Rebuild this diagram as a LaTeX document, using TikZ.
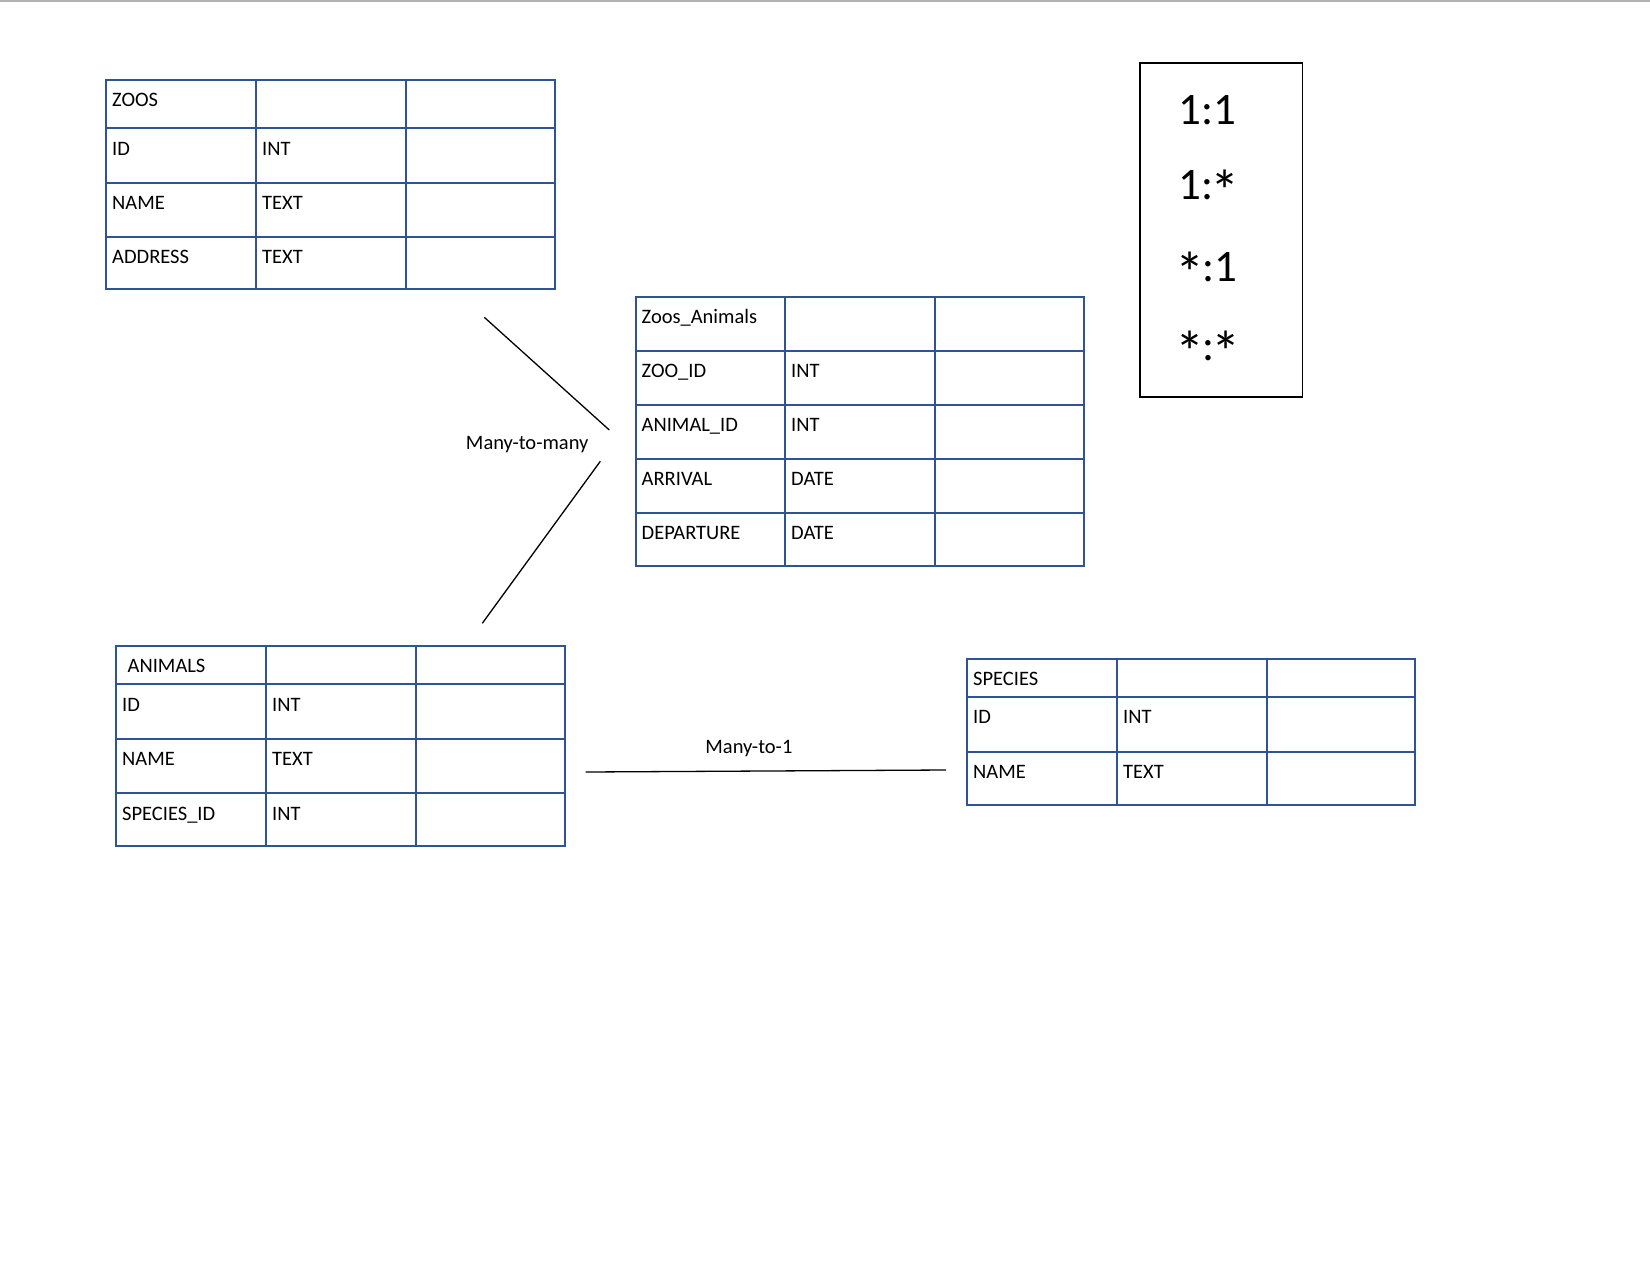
\documentclass[tikz,border=0pt]{standalone}
\usepackage{fontspec}
\setmainfont{Carlito}
\definecolor{tblblue}{RGB}{47,84,150}
\newcommand\legast{\kern-2.5pt\raisebox{-12pt}{\scalebox{1.3}{*}}\kern-2.5pt}
\tikzset{
  tbl/.style={draw=tblblue, line width=2pt},
  conn/.style={draw=black, line width=1.3pt},
  cell/.style={anchor=base west, inner sep=0pt, font=\fontsize{20.5}{24}\selectfont},
  lbl/.style={anchor=base, inner sep=0pt, font=\fontsize{20.5}{24}\selectfont},
  leg/.style={anchor=base west, inner sep=0pt, font=\fontsize{45}{50}\selectfont},
}
\begin{document}
\begin{tikzpicture}[x=1pt,y=-1pt]
\useasboundingbox (0,0) rectangle (1650,1275);
\draw[gray!60, line width=1.5pt] (0,0.8) -- (1650,0.8);

% ZOOS table
\draw[tbl] (106,80) rectangle (554.6,289.4);
\draw[tbl] (255.7,80) -- (255.7,289.4) (405.8,80) -- (405.8,289.4);
\draw[tbl] (106,128.4) -- (554.6,128.4) (106,182.5) -- (554.6,182.5) (106,236.7) -- (554.6,236.7);
\node[cell] (z0) at (112,106.6) {ZOOS};
\node[cell] (z1) at (112,155) {ID};
\node[cell] (z1t) at (262,155) {INT};
\node[cell] (z2) at (112,209.1) {NAME};
\node[cell] (z2t) at (262,209.1) {TEXT};
\node[cell] (z3) at (112,263.3) {ADDRESS};
\node[cell] (z3t) at (262,263.3) {TEXT};

% Zoos_Animals table
\draw[tbl] (635.8,296.7) rectangle (1084,566);
\draw[tbl] (785,296.7) -- (785,566) (935.2,296.7) -- (935.2,566);
\draw[tbl] (635.8,350.5) -- (1084,350.5) (635.8,405) -- (1084,405) (635.8,459) -- (1084,459) (635.8,513.3) -- (1084,513.3);
\node[cell] (za0) at (641.5,323.3) {Zoos\_Animals};
\node[cell] (za1) at (641.5,377.1) {ZOO\_ID};
\node[cell] (za1t) at (791,377.1) {INT};
\node[cell] (za2) at (641.5,431.6) {ANIMAL\_ID};
\node[cell] (za2t) at (791,431.6) {INT};
\node[cell] (za3) at (641.5,485.6) {ARRIVAL};
\node[cell] (za3t) at (791,485.6) {DATE};
\node[cell] (za4) at (641.5,539.9) {DEPARTURE};
\node[cell] (za4t) at (791,539.9) {DATE};

% ANIMALS table
\draw[tbl] (116,645.8) rectangle (564.6,846);
\draw[tbl] (265.8,645.8) -- (265.8,846) (415.7,645.8) -- (415.7,846);
\draw[tbl] (116,684.4) -- (564.6,684.4) (116,738.5) -- (564.6,738.5) (116,793.3) -- (564.6,793.3);
\node[cell] (a0) at (127.5,672.6) {ANIMALS};
\node[cell] (a1) at (122,711.2) {ID};
\node[cell] (a1t) at (272,711.2) {INT};
\node[cell] (a2) at (122,765.3) {NAME};
\node[cell] (a2t) at (272,765.3) {TEXT};
\node[cell] (a3) at (122,820.1) {SPECIES\_ID};
\node[cell] (a3t) at (272,820.1) {INT};

% SPECIES table
\draw[tbl] (966.5,658.8) rectangle (1415.2,804.5);
\draw[tbl] (1116.7,658.8) -- (1116.7,804.5) (1266.8,658.8) -- (1266.8,804.5);
\draw[tbl] (966.5,697) -- (1415.2,697) (966.5,751.5) -- (1415.2,751.5);
\node[cell] (s0) at (973,685) {SPECIES};
\node[cell] (s1) at (973,723.7) {ID};
\node[cell] (s1t) at (1123,723.7) {INT};
\node[cell] (s2) at (973,778.2) {NAME};
\node[cell] (s2t) at (1123,778.2) {TEXT};

% connectors
\coordinate (m1a) at (484.3,317.3);
\coordinate (m1b) at (609.3,430);
\coordinate (m2a) at (600.3,461.3);
\coordinate (m2b) at (482.3,623.3);
\coordinate (o1a) at (585.7,772);
\coordinate (o1b) at (946,770);
\draw[conn] (m1a) -- (m1b);
\draw[conn] (m2a) -- (m2b);
\draw[conn] (o1a) -- (o1b);
\node[lbl] (mm) at (527.2,449) {Many-to-many};
\node[lbl] (m1) at (748.9,753.3) {Many-to-1};

% legend
\node[draw=black, line width=1.5pt, minimum width=162.7pt, minimum height=334pt, anchor=north west, inner sep=0pt] (legend) at (1139,62) {};
\node[leg] (l1) at (1178,124.3) {1:1};
\node[leg] (l2) at (1178,199.5) {1:\legast};
\node[leg] (l3) at (1178,281.7) {\legast:1};
\node[leg] (l4) at (1178,360) {\legast:\legast};
\end{tikzpicture}
\end{document}
